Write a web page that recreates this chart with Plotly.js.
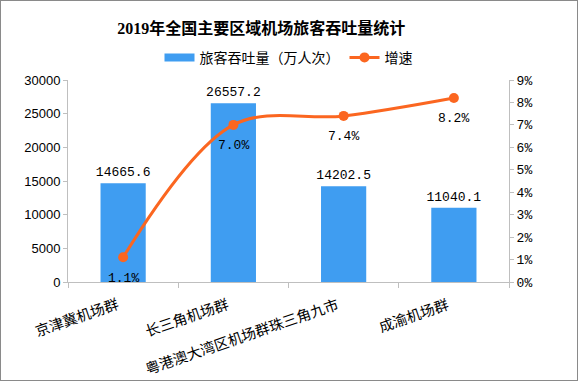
<!DOCTYPE html>
<html>
<head>
<meta charset="utf-8">
<script src="https://cdn.plot.ly/plotly-3.0.1.min.js"></script>
<style>
html,body{margin:0;padding:0;background:#fff;}
#chart{width:576px;height:379px;border:1px solid #8a8a8a;}
</style>
</head>
<body>
<div id="chart"></div>
<script>
const categories = ["京津冀机场群", "长三角机场群", "粤港澳大湾区机场群珠三角九市", "成渝机场群"];
const throughput = [14665.6, 26557.2, 14202.5, 11040.1];
const growth = [1.1, 7.0, 7.4, 8.2];

const cjk = '"Noto Sans CJK SC", "Liberation Sans", sans-serif';
const mono = '"Liberation Mono", "DejaVu Sans Mono", monospace';
const blue = '#3F9DF1';
const orange = '#FB6620';

const traces = [
  {
    type: 'bar',
    name: '旅客吞吐量（万人次）',
    x: categories,
    y: throughput,
    width: 0.41,
    marker: {color: blue},
    text: throughput.map(v => v.toFixed(1)),
    textposition: 'outside',
    constraintext: 'none',
    textfont: {family: mono, size: 13, color: '#000'},
    cliponaxis: false,
    showlegend: false,
    hoverinfo: 'none'
  },
  {
    type: 'scatter',
    name: '旅客吞吐量（万人次）',
    x: [null], y: [null],
    mode: 'lines',
    line: {color: blue, width: 8},
    showlegend: true,
    hoverinfo: 'none'
  },
  {
    type: 'scatter',
    name: '增速',
    x: categories,
    y: growth,
    yaxis: 'y2',
    mode: 'lines+markers',
    line: {color: orange, width: 3, shape: 'spline', smoothing: 1},
    marker: {color: orange, size: 10},
    cliponaxis: false,
    hoverinfo: 'none'
  }
];

const catLabels = categories.map(c => ({
  x: c, xref: 'x', y: 0, yref: 'paper',
  text: c, showarrow: false, textangle: -19,
  xanchor: 'right', yanchor: 'top',
  yshift: -8,
  font: {family: cjk, size: 14.5, color: '#000'}
}));

const pctLabels = categories.map((c, i) => ({
  x: c, xref: 'x', y: growth[i], yref: 'y2',
  text: growth[i].toFixed(1) + '%', showarrow: false,
  xanchor: 'center', yanchor: 'middle',
  yshift: -21,
  font: {family: mono, size: 13, color: '#000'}
}));

const layout = {
  width: 576, height: 379,
  margin: {l: 67, r: 68, t: 79, b: 98},
  paper_bgcolor: '#fff', plot_bgcolor: '#fff',
  title: {
    text: '2019年全国主要区域机场旅客吞吐量统计',
    font: {family: '"Liberation Serif", "Noto Sans CJK SC", serif', size: 16, color: '#000', weight: 'bold'},
    x: 0.452, xanchor: 'center', y: 0.928, yanchor: 'middle'
  },
  showlegend: true,
  legend: {
    orientation: 'h', x: 0.5, xanchor: 'center', y: 1.11, yanchor: 'middle',
    font: {family: cjk, size: 14, color: '#000'},
    traceorder: 'normal'
  },
  xaxis: {
    type: 'category',
    showticklabels: false,
    showline: true, linecolor: '#BFBFBF', linewidth: 1,
    ticks: 'outside', tickson: 'boundaries', ticklen: 5, tickcolor: '#BFBFBF',
    showgrid: false, zeroline: false,
    range: [-0.5, 3.5]
  },
  yaxis: {
    range: [0, 30000], dtick: 5000, tickformat: 'd',
    showline: true, linecolor: '#BFBFBF', linewidth: 1,
    ticks: 'outside', ticklen: 4, tickcolor: '#BFBFBF',
    showgrid: false, zeroline: false,
    tickfont: {family: '"Liberation Sans", sans-serif', size: 13, color: '#000'}
  },
  yaxis2: {
    overlaying: 'y', side: 'right',
    range: [0, 9], dtick: 1, ticksuffix: '%',
    showline: true, linecolor: '#BFBFBF', linewidth: 1,
    ticks: 'outside', ticklen: 4, tickcolor: '#BFBFBF',
    showgrid: false, zeroline: false,
    tickfont: {family: mono, size: 13, color: '#000'}
  },
  annotations: catLabels.concat(pctLabels)
};

Plotly.newPlot('chart', traces, layout, {displayModeBar: false, staticPlot: true});
</script>
</body>
</html>
